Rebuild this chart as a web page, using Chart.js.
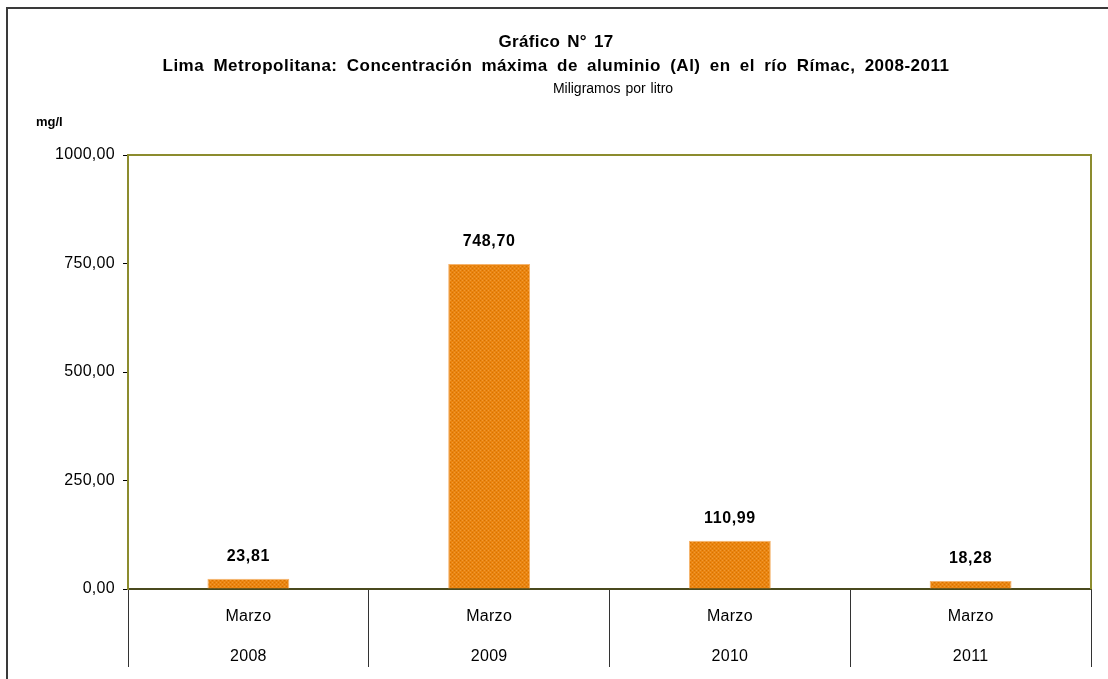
<!DOCTYPE html>
<html>
<head>
<meta charset="utf-8">
<script src="https://cdn.jsdelivr.net/npm/chart.js@4/dist/chart.umd.min.js"></script>
<style>
  html, body { margin: 0; padding: 0; background: #fff; }
  canvas { display: block; }
</style>
</head>
<body>
<canvas id="chart" width="1108" height="679"></canvas>
<script>
// Datos del gráfico
const months = ['Marzo', 'Marzo', 'Marzo', 'Marzo'];
const years = ['2008', '2009', '2010', '2011'];
const aluminio = [23.81, 748.70, 110.99, 18.28];
const yTicks = [0, 250, 500, 750, 1000];

const fmt = v => v.toFixed(2).replace('.', ',');
const FONT = '"Liberation Sans", Arial, sans-serif';

// Relleno naranja con trama
function makePattern() {
    const c = document.createElement('canvas');
    c.width = 4; c.height = 4;
    const g = c.getContext('2d');
    g.fillStyle = '#ea8510';
    g.fillRect(0, 0, 4, 4);
    g.fillStyle = '#d87200';
    g.fillRect(0, 0, 1, 1);
    g.fillRect(2, 2, 1, 1);
    g.fillStyle = '#f09a35';
    g.fillRect(2, 0, 1, 1);
    g.fillRect(0, 2, 1, 1);
    return g.createPattern(c, 'repeat');
}

const framePlugin = {
    id: 'frame',
    beforeDraw(chart) {
        const ctx = chart.ctx;
        ctx.save();
        ctx.strokeStyle = '#3a3a3a';
        ctx.lineWidth = 2;
        ctx.beginPath();
        ctx.moveTo(7, 679);
        ctx.lineTo(7, 8);
        ctx.lineTo(1108, 8);
        ctx.stroke();

        ctx.fillStyle = '#000';
        ctx.textAlign = 'center';
        ctx.textBaseline = 'middle';
        ctx.font = 'bold 17px ' + FONT;
        ctx.letterSpacing = '0.3px';
        ctx.wordSpacing = '2px';
        ctx.fillText('Gráfico N° 17', 556, 42);
        ctx.font = 'bold 17px ' + FONT;
        ctx.letterSpacing = '0.5px';
        ctx.wordSpacing = '4px';
        ctx.fillText('Lima Metropolitana: Concentración máxima de aluminio (Al) en el río Rímac, 2008-2011', 556, 66);
        ctx.font = '14px ' + FONT;
        ctx.letterSpacing = '0px';
        ctx.wordSpacing = '1px';
        ctx.fillText('Miligramos por litro', 613, 89);
        ctx.textAlign = 'left';
        ctx.font = 'bold 13px ' + FONT;
        ctx.wordSpacing = '0px';
        ctx.fillText('mg/l', 36, 122);
        ctx.restore();
        // leve espaciado para los rótulos de los ejes
        ctx.letterSpacing = '0.3px';
    },
    afterDraw(chart) {
        const a = chart.chartArea;
        const ctx = chart.ctx;
        ctx.save();
        ctx.strokeStyle = '#8c8c2e';
        ctx.lineWidth = 2;
        ctx.beginPath();
        ctx.moveTo(a.left, a.top);
        ctx.lineTo(a.right, a.top);
        ctx.lineTo(a.right, a.bottom);
        ctx.stroke();
        ctx.restore();
    }
};

const labelPlugin = {
    id: 'barLabels',
    afterDatasetsDraw(chart) {
        const ctx = chart.ctx;
        const meta = chart.getDatasetMeta(0);
        ctx.save();
        ctx.fillStyle = '#000';
        ctx.font = 'bold 16px ' + FONT;
        ctx.letterSpacing = '0.6px';
        ctx.textAlign = 'center';
        ctx.textBaseline = 'middle';
        meta.data.forEach((bar, i) => {
            ctx.fillText(fmt(aluminio[i]), bar.x, bar.y - 22);
        });
        ctx.restore();
    }
};

const ctx = document.getElementById('chart').getContext('2d');
new Chart(ctx, {
    type: 'bar',
    data: {
        labels: months.map((m, i) => [m, years[i]]),
        datasets: [{
            data: aluminio,
            backgroundColor: makePattern(),
            borderColor: '#f5b46e',
            borderWidth: 1,
            barPercentage: 0.34,
            categoryPercentage: 1
        }]
    },
    options: {
        responsive: false,
        animation: false,
        devicePixelRatio: 1,
        layout: { padding: { top: 155, right: 17, bottom: 0, left: 0 } },
        plugins: {
            legend: { display: false },
            tooltip: { enabled: false }
        },
        scales: {
            x: {
                offset: true,
                afterFit: s => { s.height = 90; },
                grid: {
                    offset: true,
                    drawOnChartArea: false,
                    drawTicks: true,
                    tickLength: 78,
                    color: '#333',
                    lineWidth: 1
                },
                border: { display: true, color: '#4a4a1e', width: 2 },
                ticks: {
                    padding: -70,
                    color: '#000',
                    font: { family: FONT, size: 16, lineHeight: '40px' },
                    maxRotation: 0
                }
            },
            y: {
                min: 0,
                max: 1000,
                afterFit: s => { s.width = 128; },
                afterBuildTicks: s => { s.ticks = yTicks.map(v => ({ value: v })); },
                grid: {
                    drawOnChartArea: false,
                    drawTicks: true,
                    tickLength: 5,
                    color: '#000'
                },
                border: { display: true, color: '#8c8c2e', width: 2 },
                ticks: {
                    padding: 8,
                    color: '#000',
                    font: { family: FONT, size: 16 },
                    callback: v => fmt(v)
                }
            }
        }
    },
    plugins: [framePlugin, labelPlugin]
});
</script>
</body>
</html>
